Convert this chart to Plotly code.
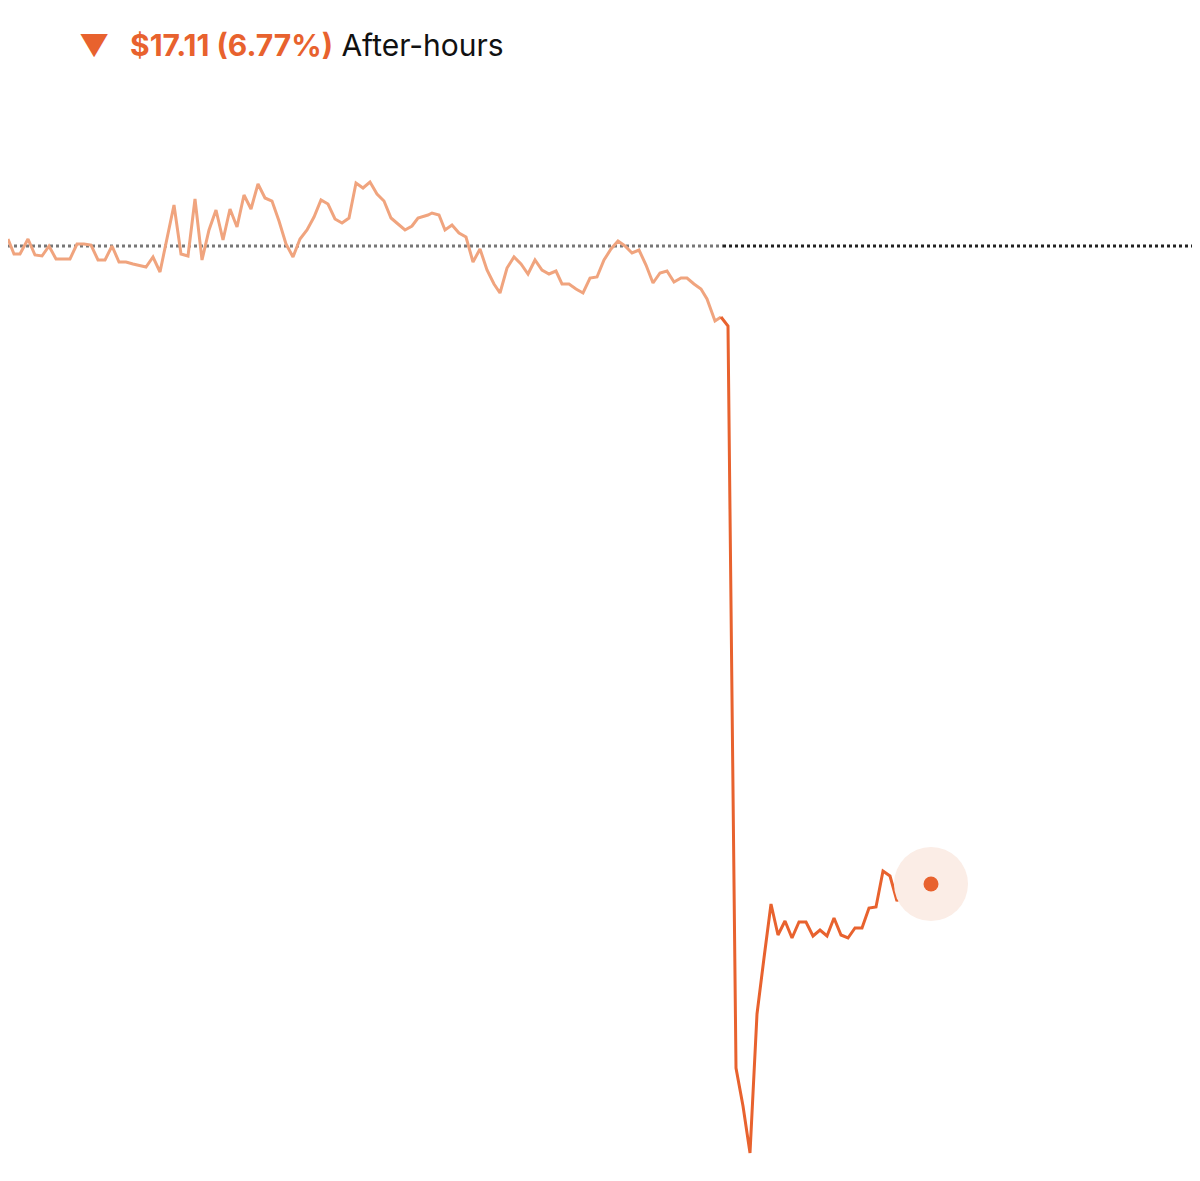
import plotly.graph_objects as go

# values (height level, larger = higher price)
reg_x = [0, 6, 12, 20, 27, 34, 41, 48, 55, 62, 69, 76, 83, 90, 97, 104, 111, 118, 125, 132, 138, 145, 152,
         166, 173, 180, 187, 194, 201, 208, 215, 222, 229, 236, 243, 250, 257, 264, 271, 278, 285, 292, 299,
         306, 313, 320, 327, 334, 341, 348, 355, 362, 369, 376, 383, 390, 397, 404, 410, 420, 424, 431, 437,
         444, 451, 458, 465, 472, 479, 486, 492, 499, 506, 513, 520, 527, 534, 541, 548, 554, 561, 568, 575,
         582, 589, 596, 603, 610, 617, 624, 631, 638, 645, 652, 659, 666, 673, 679, 686, 693, 699, 707, 713]
reg_px = [231, 246, 246, 231, 247, 248, 238, 251, 251, 251, 236, 236, 237, 252, 252, 238, 254, 254, 256, 258,
          259, 249, 264, 197, 246, 248, 191, 252, 222, 202, 232, 201, 219, 187, 201, 176, 190, 193, 213, 236,
          249, 231, 222, 209, 192, 196, 211, 215, 210, 175, 180, 174, 186, 193, 210, 216, 222, 218, 210, 207,
          205, 207, 222, 217, 225, 229, 254, 241, 262, 276, 285, 260, 249, 256, 266, 252, 262, 266, 263, 276,
          276, 281, 285, 270, 269, 252, 241, 233, 238, 245, 242, 257, 275, 265, 263, 274, 270, 270, 276, 281,
          291, 313, 309]
ah_x = [713, 720, 728, 735, 742, 749, 756, 763, 770, 777, 784, 791, 798, 805, 812, 819, 826, 833, 840, 847,
        854, 861, 868, 875, 882, 889, 896, 903, 910, 917, 923]
ah_px = [309, 318, 1060, 1098, 1145, 1006, 950, 896, 927, 913, 930, 914, 914, 928, 922, 928, 910, 927, 930,
         920, 920, 900, 899, 863, 868, 893, 881, 892, 895, 879, 876]
prev_close = 1181 - 238

H = 1181
reg_y = [H - v for v in reg_px]
ah_y = [H - v for v in ah_px]

LIGHT = "#F0A47E"
DARK = "#E8622E"

fig = go.Figure()
fig.add_trace(go.Scatter(x=[0, 715], y=[prev_close, prev_close], mode="lines",
                         line=dict(color="#777777", width=3, dash="dot")))
fig.add_trace(go.Scatter(x=[715, 1200], y=[prev_close, prev_close], mode="lines",
                         line=dict(color="#222222", width=3, dash="dot")))
fig.add_trace(go.Scatter(x=reg_x, y=reg_y, mode="lines", line=dict(color=LIGHT, width=3)))
fig.add_trace(go.Scatter(x=ah_x, y=ah_y, mode="lines", line=dict(color=DARK, width=3)))
fig.add_trace(go.Scatter(x=[ah_x[-1]], y=[ah_y[-1]], mode="markers",
                         marker=dict(size=74, color="#FBEDE6")))
fig.add_trace(go.Scatter(x=[ah_x[-1]], y=[ah_y[-1]], mode="markers",
                         marker=dict(size=15, color=DARK)))

fig.add_annotation(x=0.5, y=1144, xref="x", yref="y", xanchor="left", showarrow=False,
                   text="<span style='color:#E8622E'>▼</span>",
                   font=dict(size=30, family="Inter"), xshift=68)
fig.add_annotation(x=120, y=1144, xref="x", yref="y", xanchor="left", showarrow=False,
                   text="<b><span style='color:#E8622E'>$17.11 (6.77%)</span></b>"
                        " <span style='color:#111'>After-hours</span>",
                   font=dict(size=30, family="Inter"))

fig.update_layout(width=1200, height=1181, margin=dict(l=0, r=0, t=0, b=0),
                  plot_bgcolor="white", paper_bgcolor="white", showlegend=False,
                  xaxis=dict(range=[0, 1200], visible=False),
                  yaxis=dict(range=[0, 1181], visible=False))
fig.write_html("out.html")
